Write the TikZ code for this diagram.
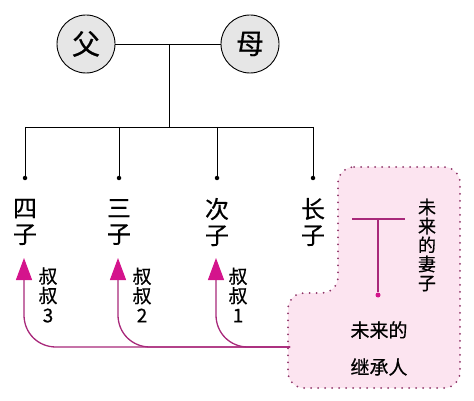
\documentclass[tikz,border=0pt]{standalone}
\usepackage{fontspec}
\setmainfont{Noto Sans CJK SC}[FakeBold=0.5]
\usetikzlibrary{arrows.meta,calc}
\definecolor{mag}{HTML}{A8287A}
\definecolor{magtip}{HTML}{D4148C}
\definecolor{pinkfill}{HTML}{FCE4F0}
\definecolor{dotcol}{HTML}{8E3468}
\definecolor{circfill}{HTML}{E6E6E6}
\tikzset{
  parent/.style={circle, draw=black, line width=0.9pt, fill=circfill, minimum size=58pt, inner sep=0pt, font=\fontsize{28}{28}\selectfont},
  son/.style={align=center, inner sep=0pt, font=\fontsize{24}{26}\selectfont},
  uncle/.style={align=center, inner sep=0pt, font=\fontsize{19}{19.5}\selectfont},
  inner/.style={align=center, inner sep=0pt, font=\fontsize{19}{20}\selectfont},
  tree/.style={line width=0.9pt, black},
  enddot/.style={circle, fill=black, inner sep=0pt, minimum size=4.5pt},
  magdot/.style={circle, fill=magtip, inner sep=0pt, minimum size=5pt},
  uarrow/.style={draw=mag, line width=1.3pt, arrows={-Triangle[length=22pt, width=16pt, magtip]}},
  region/.style={fill=pinkfill, draw=dotcol, line width=2pt, line cap=round, dash pattern=on 0pt off 7pt, rounded corners=16pt}
}
\begin{document}
\begin{tikzpicture}[x=1pt, y=-1pt]
\useasboundingbox (0,0) rectangle (474,401);
% pink region
\path[region] (338,167) -- (460,167) -- (460,388) -- (288,388) -- (288,293) -- (338,293) -- cycle;
% parents
\node[parent] (fa) at (86,44) {父};
\node[parent] (mu) at (250,44) {母};
\coordinate (j) at (169,44);
\coordinate (jb) at (169,127);
\coordinate (b4) at (25,127);
\coordinate (b3) at (119,127);
\coordinate (b2) at (217,127);
\coordinate (b1) at (313,127);
\node[enddot] (d4) at (25,178) {};
\node[enddot] (d3) at (119,178) {};
\node[enddot] (d2) at (217,178) {};
\node[enddot] (d1) at (313,178) {};
\draw[tree] (fa) -- (mu);
\draw[tree] (j) -- (jb);
\draw[tree] (b4) -- (b1);
\draw[tree] (b4) -- (d4);
\draw[tree] (b3) -- (d3);
\draw[tree] (b2) -- (d2);
\draw[tree] (b1) -- (d1);
% sons
\node[son] (s4) at (25,222) {四\\子};
\node[son] (s3) at (119,222) {三\\子};
\node[son] (s2) at (217,222) {次\\子};
\node[son] (s1) at (313,222) {长\\子};
% uncles labels
\node[uncle] (u3) at (48,295) {叔\\叔\\3};
\node[uncle] (u2) at (142,295) {叔\\叔\\2};
\node[uncle] (u1) at (238,295) {叔\\叔\\1};
% arrows
\coordinate (hub) at (290,347);
\coordinate (t4) at (24,258);
\coordinate (t3) at (118,258);
\coordinate (t2) at (216,258);
\foreach \t in {t4,t3,t2}{
  \draw[uarrow] (hub) -- ($(\t|-hub)+(32,0)$)
     .. controls ($(\t|-hub)+(14,0)$) and ($(\t|-hub)+(0,-14)$) .. ($(\t|-hub)+(0,-32)$)
     -- (\t);
}
% inside region
\coordinate (tl) at (352,219);
\coordinate (tr) at (405,219);
\coordinate (tm) at (378,219);
\node[magdot] (md) at (378,295) {};
\draw[mag, line width=1.1pt] (tl) -- (tr);
\draw[mag, line width=1.1pt] (tm) -- (md);
\node[inner, font=\fontsize{18}{19}\selectfont] (wife) at (427,245) {未\\来\\的\\妻\\子};
\node[inner] (heir1) at (379,330) {未来的};
\node[inner] (heir2) at (379,367) {继承人};
\end{tikzpicture}
\end{document}
